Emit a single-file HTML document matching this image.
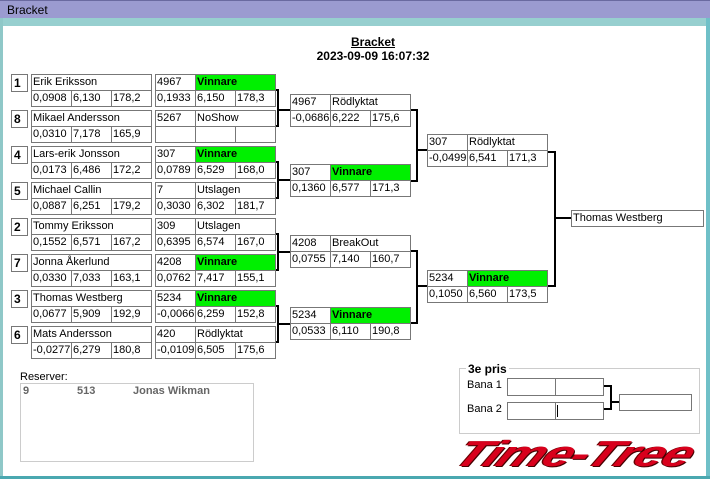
<!DOCTYPE html>
<html><head><meta charset="utf-8"><style>
*{margin:0;padding:0;box-sizing:border-box}
body{width:710px;height:479px;position:relative;background:#fff;font-family:"Liberation Sans",Arial,sans-serif;font-size:11px;color:#000;overflow:hidden}
.a{position:absolute}
.c{position:absolute;border:1px solid #777;height:17px;line-height:15px;padding-left:1px;white-space:nowrap;overflow:hidden;background:#fff}
.g{background:#00f000;font-weight:bold}
.s{position:absolute;border:1px solid #777;width:17px;height:18px;font-weight:bold;font-size:12px;line-height:16px;padding-left:2px}
.v{position:absolute;background:#000;width:2px}
.h{position:absolute;background:#000;height:2px}
</style></head><body>
<div class="a" style="left:0;top:0;width:710px;height:18px;background:#9b9bd0;border-top:1px solid #6a6aa0"></div>
<div class="a" style="left:7px;top:3px;font-size:12px">Bracket</div>
<div class="a" style="left:0;top:18px;width:710px;height:8px;background:#97cfcf"></div>
<div class="a" style="left:0;top:18px;width:3px;height:461px;background:#8fc8c8"></div>
<div class="a" style="left:706px;top:18px;width:4px;height:461px;background:#6fc0c8"></div>
<div class="a" style="left:0;top:476px;width:710px;height:3px;background:#4aa8b0"></div>
<div class="a" style="left:0;top:35px;width:746px;text-align:center;font-weight:bold;font-size:12px;line-height:14px"><u>Bracket</u><br>2023-09-09 16:07:32</div>

<!-- seeds & entries -->
<div class="s" style="left:11px;top:74px">1</div><div class="c" style="left:31px;top:74px;width:121px">Erik Eriksson</div>
<div class="c" style="left:31px;top:90px;width:41px">0,0908</div><div class="c" style="left:71px;top:90px;width:41px">6,130</div><div class="c" style="left:111px;top:90px;width:41px">178,2</div>
<div class="s" style="left:11px;top:110px">8</div><div class="c" style="left:31px;top:110px;width:121px">Mikael Andersson</div>
<div class="c" style="left:31px;top:126px;width:41px">0,0310</div><div class="c" style="left:71px;top:126px;width:41px">7,178</div><div class="c" style="left:111px;top:126px;width:41px">165,9</div>
<div class="s" style="left:11px;top:146px">4</div><div class="c" style="left:31px;top:146px;width:121px">Lars-erik Jonsson</div>
<div class="c" style="left:31px;top:162px;width:41px">0,0173</div><div class="c" style="left:71px;top:162px;width:41px">6,486</div><div class="c" style="left:111px;top:162px;width:41px">172,2</div>
<div class="s" style="left:11px;top:182px">5</div><div class="c" style="left:31px;top:182px;width:121px">Michael Callin</div>
<div class="c" style="left:31px;top:198px;width:41px">0,0887</div><div class="c" style="left:71px;top:198px;width:41px">6,251</div><div class="c" style="left:111px;top:198px;width:41px">179,2</div>
<div class="s" style="left:11px;top:218px">2</div><div class="c" style="left:31px;top:218px;width:121px">Tommy Eriksson</div>
<div class="c" style="left:31px;top:234px;width:41px">0,1552</div><div class="c" style="left:71px;top:234px;width:41px">6,571</div><div class="c" style="left:111px;top:234px;width:41px">167,2</div>
<div class="s" style="left:11px;top:254px">7</div><div class="c" style="left:31px;top:254px;width:121px">Jonna Åkerlund</div>
<div class="c" style="left:31px;top:270px;width:41px">0,0330</div><div class="c" style="left:71px;top:270px;width:41px">7,033</div><div class="c" style="left:111px;top:270px;width:41px">163,1</div>
<div class="s" style="left:11px;top:290px">3</div><div class="c" style="left:31px;top:290px;width:121px">Thomas Westberg</div>
<div class="c" style="left:31px;top:306px;width:41px">0,0677</div><div class="c" style="left:71px;top:306px;width:41px">5,909</div><div class="c" style="left:111px;top:306px;width:41px">192,9</div>
<div class="s" style="left:11px;top:326px">6</div><div class="c" style="left:31px;top:326px;width:121px">Mats Andersson</div>
<div class="c" style="left:31px;top:342px;width:41px">-0,0277</div><div class="c" style="left:71px;top:342px;width:41px">6,279</div><div class="c" style="left:111px;top:342px;width:41px">180,8</div>

<!-- round 1 results -->
<div class="c" style="left:155px;top:74px;width:41px">4967</div><div class="c g" style="left:195px;top:74px;width:81px">Vinnare</div>
<div class="c" style="left:155px;top:90px;width:41px">0,1933</div><div class="c" style="left:195px;top:90px;width:41px">6,150</div><div class="c" style="left:235px;top:90px;width:41px">178,3</div>
<div class="c" style="left:155px;top:110px;width:41px">5267</div><div class="c" style="left:195px;top:110px;width:81px">NoShow</div>
<div class="c" style="left:155px;top:126px;width:41px"></div><div class="c" style="left:195px;top:126px;width:41px"></div><div class="c" style="left:235px;top:126px;width:41px"></div>
<div class="c" style="left:155px;top:146px;width:41px">307</div><div class="c g" style="left:195px;top:146px;width:81px">Vinnare</div>
<div class="c" style="left:155px;top:162px;width:41px">0,0789</div><div class="c" style="left:195px;top:162px;width:41px">6,529</div><div class="c" style="left:235px;top:162px;width:41px">168,0</div>
<div class="c" style="left:155px;top:182px;width:41px">7</div><div class="c" style="left:195px;top:182px;width:81px">Utslagen</div>
<div class="c" style="left:155px;top:198px;width:41px">0,3030</div><div class="c" style="left:195px;top:198px;width:41px">6,302</div><div class="c" style="left:235px;top:198px;width:41px">181,7</div>
<div class="c" style="left:155px;top:218px;width:41px">309</div><div class="c" style="left:195px;top:218px;width:81px">Utslagen</div>
<div class="c" style="left:155px;top:234px;width:41px">0,6395</div><div class="c" style="left:195px;top:234px;width:41px">6,574</div><div class="c" style="left:235px;top:234px;width:41px">167,0</div>
<div class="c" style="left:155px;top:254px;width:41px">4208</div><div class="c g" style="left:195px;top:254px;width:81px">Vinnare</div>
<div class="c" style="left:155px;top:270px;width:41px">0,0762</div><div class="c" style="left:195px;top:270px;width:41px">7,417</div><div class="c" style="left:235px;top:270px;width:41px">155,1</div>
<div class="c" style="left:155px;top:290px;width:41px">5234</div><div class="c g" style="left:195px;top:290px;width:81px">Vinnare</div>
<div class="c" style="left:155px;top:306px;width:41px">-0,0066</div><div class="c" style="left:195px;top:306px;width:41px">6,259</div><div class="c" style="left:235px;top:306px;width:41px">152,8</div>
<div class="c" style="left:155px;top:326px;width:41px">420</div><div class="c" style="left:195px;top:326px;width:81px">Rödlyktat</div>
<div class="c" style="left:155px;top:342px;width:41px">-0,0109</div><div class="c" style="left:195px;top:342px;width:41px">6,505</div><div class="c" style="left:235px;top:342px;width:41px">175,6</div>

<!-- r1 connectors -->
<div class="h" style="left:276px;top:89px;width:3px"></div><div class="v" style="left:277px;top:89px;height:38px"></div><div class="h" style="left:276px;top:125px;width:3px"></div><div class="h" style="left:277px;top:109px;width:13px"></div>
<div class="h" style="left:276px;top:161px;width:3px"></div><div class="v" style="left:277px;top:161px;height:38px"></div><div class="h" style="left:276px;top:197px;width:3px"></div><div class="h" style="left:277px;top:179px;width:13px"></div>
<div class="h" style="left:276px;top:233px;width:3px"></div><div class="v" style="left:277px;top:233px;height:38px"></div><div class="h" style="left:276px;top:269px;width:3px"></div><div class="h" style="left:277px;top:251px;width:13px"></div>
<div class="h" style="left:276px;top:305px;width:3px"></div><div class="v" style="left:277px;top:305px;height:38px"></div><div class="h" style="left:276px;top:341px;width:3px"></div><div class="h" style="left:277px;top:323px;width:13px"></div>

<!-- round 2 -->
<div class="c" style="left:290px;top:94px;width:41px">4967</div><div class="c" style="left:330px;top:94px;width:81px">Rödlyktat</div>
<div class="c" style="left:290px;top:110px;width:41px">-0,0686</div><div class="c" style="left:330px;top:110px;width:41px">6,222</div><div class="c" style="left:370px;top:110px;width:41px">175,6</div>
<div class="c" style="left:290px;top:164px;width:41px">307</div><div class="c g" style="left:330px;top:164px;width:81px">Vinnare</div>
<div class="c" style="left:290px;top:180px;width:41px">0,1360</div><div class="c" style="left:330px;top:180px;width:41px">6,577</div><div class="c" style="left:370px;top:180px;width:41px">171,3</div>
<div class="c" style="left:290px;top:235px;width:41px">4208</div><div class="c" style="left:330px;top:235px;width:81px">BreakOut</div>
<div class="c" style="left:290px;top:251px;width:41px">0,0755</div><div class="c" style="left:330px;top:251px;width:41px">7,140</div><div class="c" style="left:370px;top:251px;width:41px">160,7</div>
<div class="c" style="left:290px;top:307px;width:41px">5234</div><div class="c g" style="left:330px;top:307px;width:81px">Vinnare</div>
<div class="c" style="left:290px;top:323px;width:41px">0,0533</div><div class="c" style="left:330px;top:323px;width:41px">6,110</div><div class="c" style="left:370px;top:323px;width:41px">190,8</div>

<div class="h" style="left:411px;top:109px;width:7px"></div><div class="v" style="left:416px;top:109px;height:73px"></div><div class="h" style="left:411px;top:180px;width:7px"></div><div class="h" style="left:416px;top:149px;width:11px"></div>
<div class="h" style="left:411px;top:250px;width:7px"></div><div class="v" style="left:416px;top:250px;height:74px"></div><div class="h" style="left:411px;top:322px;width:7px"></div><div class="h" style="left:416px;top:285px;width:11px"></div>

<!-- round 3 -->
<div class="c" style="left:427px;top:134px;width:41px">307</div><div class="c" style="left:467px;top:134px;width:81px">Rödlyktat</div>
<div class="c" style="left:427px;top:150px;width:41px">-0,0499</div><div class="c" style="left:467px;top:150px;width:41px">6,541</div><div class="c" style="left:507px;top:150px;width:41px">171,3</div>
<div class="c" style="left:427px;top:270px;width:41px">5234</div><div class="c g" style="left:467px;top:270px;width:81px">Vinnare</div>
<div class="c" style="left:427px;top:286px;width:41px">0,1050</div><div class="c" style="left:467px;top:286px;width:41px">6,560</div><div class="c" style="left:507px;top:286px;width:41px">173,5</div>

<div class="h" style="left:548px;top:151px;width:8px"></div><div class="v" style="left:554px;top:151px;height:136px"></div><div class="h" style="left:548px;top:285px;width:8px"></div><div class="h" style="left:554px;top:217px;width:17px"></div>
<div class="c" style="left:571px;top:210px;width:133px">Thomas Westberg</div>

<!-- reserver -->
<div class="a" style="left:20px;top:371px">Reserver:</div>
<div class="a" style="left:20px;top:383px;width:234px;height:79px;border:1px solid #ccc"></div>
<div class="a" style="left:23px;top:385px;font-weight:bold;color:#666">9</div>
<div class="a" style="left:77px;top:385px;font-weight:bold;color:#666">513</div>
<div class="a" style="left:133px;top:385px;font-weight:bold;color:#666">Jonas Wikman</div>

<!-- 3e pris -->
<div class="a" style="left:459px;top:368px;width:241px;height:66px;border:1px solid #ccc"></div>
<div class="a" style="left:466px;top:362px;background:#fff;padding:0 2px;font-weight:bold;font-size:12px">3e pris</div>
<div class="a" style="left:467px;top:379px">Bana 1</div>
<div class="a" style="left:467px;top:403px">Bana 2</div>
<div class="c" style="left:507px;top:378px;width:49px;height:18px"></div><div class="c" style="left:555px;top:378px;width:49px;height:18px"></div>
<div class="c" style="left:507px;top:402px;width:49px;height:18px"></div><div class="c" style="left:555px;top:402px;width:49px;height:18px"></div>
<div class="a" style="left:557px;top:405px;width:1px;height:12px;background:#000"></div>
<div class="h" style="left:604px;top:385px;width:7px"></div><div class="v" style="left:610px;top:385px;height:25px"></div><div class="h" style="left:604px;top:408px;width:7px"></div><div class="h" style="left:610px;top:401px;width:9px"></div>
<div class="c" style="left:619px;top:394px;width:73px;height:17px"></div>

<div class="a" style="left:458px;top:434px;width:240px;height:40px;overflow:visible">
<div style="transform-origin:0 0;transform:scaleX(1.45) skewX(-22deg);position:absolute;left:11px;top:1px;font-size:36px;font-weight:bold;font-style:italic;color:#d8001c;letter-spacing:-1px;line-height:38px;text-shadow:1px 1px 0 #400,-1px 0 0 #600">Time-Tree</div>
</div>
</body></html>
